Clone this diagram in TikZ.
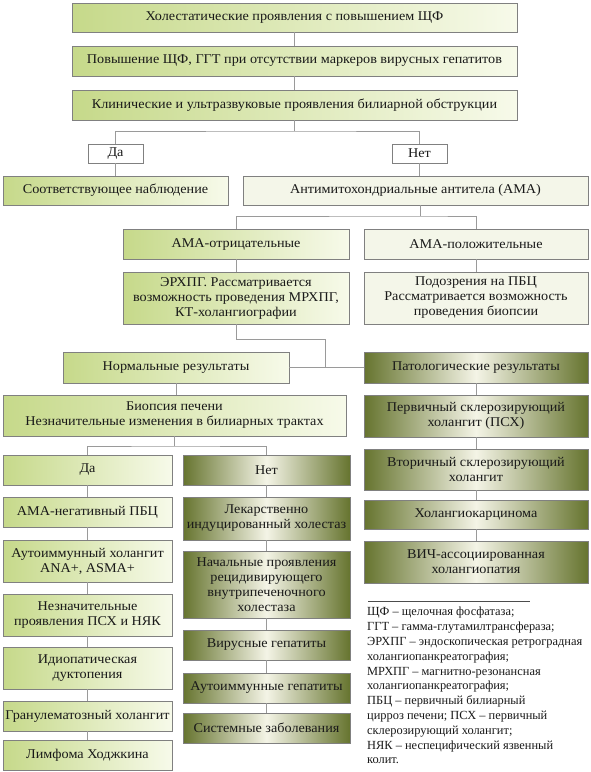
\documentclass[tikz,border=0pt]{standalone}
\usepackage{fontspec}
\setmainfont{Liberation Serif}
\newfontfamily\boxfont[FakeStretch=1.06]{Liberation Serif}
\usetikzlibrary{calc}
\definecolor{lgA}{HTML}{C6D98A}
\definecolor{lgB}{HTML}{F7FAEA}
\definecolor{dkA}{HTML}{66742F}
\definecolor{dkB}{HTML}{F4F4E6}
\definecolor{pale}{HTML}{F4F6E9}
\definecolor{bord}{HTML}{808080}
\definecolor{lnc}{HTML}{9A9A9A}
\tikzset{
 base/.style={draw=bord, line width=0.9pt, inner sep=0pt, outer sep=0pt, align=center, font=\boxfont\fontsize{13.4}{15}\selectfont, text=black!90},
 lightbox/.style={base, left color=lgA, right color=lgB},
 darkbox/.style={base, left color=dkA, right color=dkA, middle color=dkB},
 palebox/.style={base, fill=pale},
 whitebox/.style={base, fill=white},
 ln/.style={draw=lnc, line width=1pt},
}
\newcommand\bx[7]{\node[#6, minimum width={#4-#2}, minimum height={#5-#3}] (#1) at ({(#2+#4)/2},{(#3+#5)/2}) {#7};}
\begin{document}
\begin{tikzpicture}[x=1pt,y=-1pt]
\useasboundingbox (0,0) rectangle (591,772);
% top chain
\bx{b1}{72}{3}{517}{32}{lightbox}{Холестатические проявления с повышением ЩФ}
\bx{b2}{72}{46}{517}{76}{lightbox}{Повышение ЩФ, ГГТ при отсутствии маркеров вирусных гепатитов}
\bx{b3}{72}{90}{517}{120}{lightbox}{Клинические и ультразвуковые проявления билиарной обструкции}
\bx{da1}{88}{144}{143}{163}{whitebox}{Да}
\bx{net1}{392}{144}{447}{163}{whitebox}{Нет}
\bx{obs}{3}{176}{228}{205}{lightbox}{Соответствующее наблюдение}
\bx{ama}{243}{176}{588}{205}{palebox}{Антимитохондриальные антитела (АМА)}
\bx{amaneg}{123}{229}{349}{259}{lightbox}{АМА-отрицательные}
\bx{amapos}{364}{229}{588}{259}{palebox}{АМА-положительные}
\bx{erhpg}{123}{272}{349}{324}{lightbox}{ЭРХПГ. Рассматривается\\возможность проведения МРХПГ,\\КТ-холангиографии}
\bx{pbc}{364}{272}{588}{324}{palebox}{Подозрения на ПБЦ\\Рассматривается возможность\\проведения биопсии}
\bx{norm}{63}{352}{289}{383}{lightbox}{Нормальные результаты}
\bx{pat}{364}{352}{588}{383}{darkbox}{Патологические результаты}
\bx{bio}{3}{395}{346}{436}{lightbox}{Биопсия печени\\Незначительные изменения в билиарных трактах}
\bx{da2}{3}{455}{172}{485}{lightbox}{Да}
\bx{net2}{183}{455}{350}{485}{darkbox}{Нет}
% left column
\bx{l1}{3}{497}{172}{527}{lightbox}{АМА-негативный ПБЦ}
\bx{l2}{3}{540}{172}{582}{lightbox}{Аутоиммунный холангит\\ANA+, ASMA+}
\bx{l3}{3}{594}{172}{636}{lightbox}{Незначительные\\проявления ПСХ и НЯК}
\bx{l4}{3}{647}{172}{689}{lightbox}{Идиопатическая\\дуктопения}
\bx{l5}{3}{701}{172}{731}{lightbox}{Гранулематозный холангит}
\bx{l6}{3}{740}{172}{770}{lightbox}{Лимфома Ходжкина}
% middle column
\bx{m1}{183}{497}{350}{540}{darkbox}{Лекарственно\\индуцированный холестаз}
\bx{m2}{183}{551}{350}{618}{darkbox}{Начальные проявления\\рецидивирующего\\внутрипеченочного\\холестаза}
\bx{m3}{183}{630}{350}{660}{darkbox}{Вирусные гепатиты}
\bx{m4}{183}{673}{350}{703}{darkbox}{Аутоиммунные гепатиты}
\bx{m5}{183}{713}{350}{743}{darkbox}{Системные заболевания}
% right column
\bx{r1}{364}{395}{588}{437}{darkbox}{Первичный склерозирующий\\холангит (ПСХ)}
\bx{r2}{364}{449}{588}{490}{darkbox}{Вторичный склерозирующий\\холангит}
\bx{r3}{364}{500}{588}{529}{darkbox}{Холангиокарцинома}
\bx{r4}{364}{541}{588}{583}{darkbox}{ВИЧ-ассоциированная\\холангиопатия}
% legend
\draw[draw=black!70, line width=0.8pt] (368,601) -- (530,601);
\node[anchor=north west, inner sep=0pt, align=left, font=\fontsize{12.4}{14.8}\selectfont, text=black!90] (leg) at (367,607) {ЩФ – щелочная фосфатаза;\\ГГТ – гамма-глутамилтрансфераза;\\ЭРХПГ – эндоскопическая ретроградная\\холангиопанкреатография;\\МРХПГ – магнитно-резонансная\\холангиопанкреатография;\\ПБЦ – первичный билиарный\\цирроз печени; ПСХ – первичный\\склерозирующий холангит;\\НЯК – неспецифический язвенный\\колит.};
% connectors
\coordinate (j1) at (294.5,131);
\coordinate (j2) at (420,216);
\coordinate (k) at (236,216);
\coordinate (c1) at (325,339);
\coordinate (j3) at (174.5,446);
\draw[ln] (b1) -- (b2);
\draw[ln] (b2) -- (b3);
\draw[ln] (b3.south) -- (j1);
\draw[ln] (da1.north) |- (j1) -| (net1.north);
\draw[ln] (da1.south) -- (obs.north);
\draw[ln] (net1.south) -- (net1.south |- ama.north);
\draw[ln] (ama.south -| j2) -- (j2);
\draw[ln] (amaneg.north) |- (j2) -| (amapos.north);
\draw[ln] (amaneg.south) -- (erhpg.north);
\draw[ln] (amapos.south) -- (pbc.north);
\draw[ln] (erhpg.south) |- (c1) -- (c1 |- norm.east);
\draw[ln] (norm.east) -- (pat.west);
\draw[ln] (norm.south) -- (norm.south |- bio.north);
\draw[ln] (bio.south -| j3) -- (j3);
\draw[ln] (da2.north) |- (j3) -| (net2.north);
\draw[ln] (da2) -- (l1);
\draw[ln] (l1) -- (l2);
\draw[ln] (l2) -- (l3);
\draw[ln] (l3) -- (l4);
\draw[ln] (l4) -- (l5);
\draw[ln] (l5) -- (l6);
\draw[ln] (net2) -- (m1);
\draw[ln] (m1) -- (m2);
\draw[ln] (m2) -- (m3);
\draw[ln] (m3) -- (m4);
\draw[ln] (m4) -- (m5);
\draw[ln] (pat) -- (r1);
\draw[ln] (r1) -- (r2);
\draw[ln] (r2) -- (r3);
\draw[ln] (r3) -- (r4);
\end{tikzpicture}
\end{document}
